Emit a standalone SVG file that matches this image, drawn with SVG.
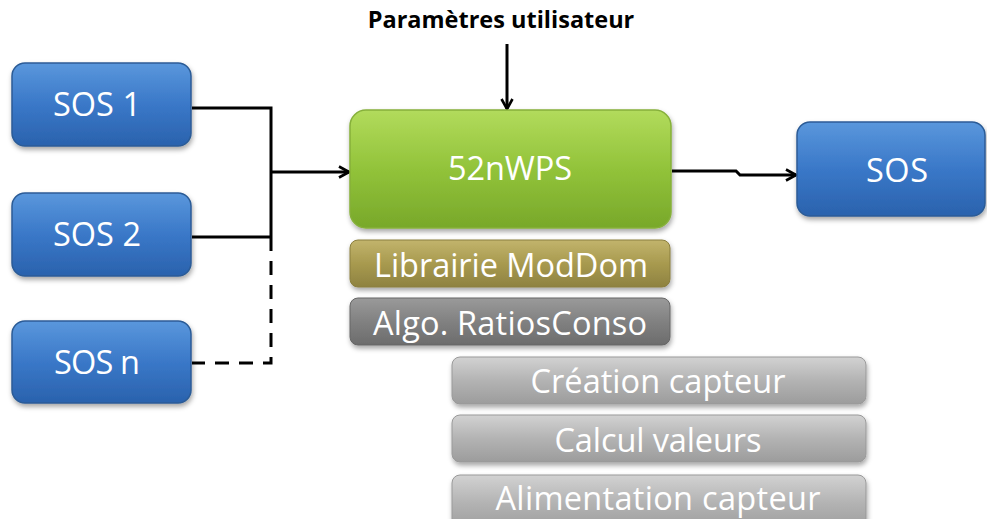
<svg xmlns="http://www.w3.org/2000/svg" width="987" height="519" viewBox="0 0 987 519">
<defs>
<linearGradient id="gBlue" x1="0" y1="0" x2="0" y2="1"><stop offset="0" stop-color="#5a97dc"/><stop offset="0.5" stop-color="#3a78c8"/><stop offset="1" stop-color="#2a62ad"/></linearGradient>
<linearGradient id="gGreen" x1="0" y1="0" x2="0" y2="1"><stop offset="0" stop-color="#b2db5c"/><stop offset="0.5" stop-color="#92c33a"/><stop offset="1" stop-color="#78a82a"/></linearGradient>
<linearGradient id="gOlive" x1="0" y1="0" x2="0" y2="1"><stop offset="0" stop-color="#c2b46c"/><stop offset="0.5" stop-color="#a89a4f"/><stop offset="1" stop-color="#8e8240"/></linearGradient>
<linearGradient id="gDark" x1="0" y1="0" x2="0" y2="1"><stop offset="0" stop-color="#9a9a9a"/><stop offset="0.5" stop-color="#818181"/><stop offset="1" stop-color="#6c6c6c"/></linearGradient>
<linearGradient id="gLight" x1="0" y1="0" x2="0" y2="1"><stop offset="0" stop-color="#d2d2d2"/><stop offset="0.5" stop-color="#b3b3b3"/><stop offset="1" stop-color="#9c9c9c"/></linearGradient>
<filter id="sh" x="-10%" y="-10%" width="125%" height="140%"><feDropShadow dx="1" dy="3" stdDeviation="2.5" flood-color="#000" flood-opacity="0.35"/></filter>
<marker id="arr" viewBox="0 0 14 14" refX="12" refY="7" markerWidth="14" markerHeight="14" markerUnits="userSpaceOnUse" orient="auto"><path d="M2,1.5 L12,7 L2,12.5" fill="none" stroke="#000" stroke-width="2.6"/></marker>
</defs>
<style>
.t{font-family:"Open Sans","Liberation Sans",sans-serif;font-size:32.5px;fill:#fff;text-anchor:middle}
.blue{fill:url(#gBlue);stroke:#2c5b96;stroke-width:1.5;filter:url(#sh)}
.c{fill:none;stroke:#000;stroke-width:3}
.box{stroke-width:1;filter:url(#sh)}
</style>
<rect width="987" height="519" fill="#fff"/>
<g id="connectors">
<path class="c" d="M192,108 H271 V237 M192,237 H271"/>
<path class="c" d="M271,237 V363 H192" stroke-dasharray="14,10"/>
<path class="c" d="M271,172 H349" marker-end="url(#arr)"/>
<path class="c" d="M507,44 V109" marker-end="url(#arr)"/>
<path class="c" d="M672,171 H736 L740,175 H796" marker-end="url(#arr)"/>
</g>
<g id="label-params"><text x="501" y="28" style="font-family:'Open Sans','Liberation Sans',sans-serif;font-weight:bold;font-size:23.5px;fill:#000;text-anchor:middle">Paramètres utilisateur</text></g>
<g id="sos1"><rect class="blue" x="12" y="63" width="179" height="83" rx="13"/><text class="t" x="97" y="116" textLength="88">SOS 1</text></g>
<g id="sos2"><rect class="blue" x="12" y="193" width="179" height="83" rx="13"/><text class="t" x="97" y="246" textLength="88">SOS 2</text></g>
<g id="sosn"><rect class="blue" x="12" y="321" width="179" height="82" rx="13"/><text class="t" x="97" y="374" textLength="86">SOS n</text></g>
<g id="wps"><rect x="350" y="110" width="321" height="118" rx="16" fill="url(#gGreen)" stroke="#86b03a" stroke-width="1.5" filter="url(#sh)"/><text class="t" x="510" y="180" textLength="124">52nWPS</text></g>
<g id="sos"><rect class="blue" x="797" y="122" width="188" height="94" rx="13"/><text class="t" x="897" y="182" textLength="62">SOS</text></g>
<g id="moddom"><rect class="box" x="350" y="240" width="320" height="47" rx="8" fill="url(#gOlive)" stroke="#8a7e3e"/><text class="t" x="511" y="277" textLength="274">Librairie ModDom</text></g>
<g id="algo"><rect class="box" x="350" y="298" width="320" height="47" rx="8" fill="url(#gDark)" stroke="#666"/><text class="t" x="510" y="335" textLength="274">Algo. RatiosConso</text></g>
<g id="creation"><rect class="box" x="452" y="357" width="414" height="47" rx="8" fill="url(#gLight)" stroke="#999"/><text class="t" x="658" y="393" textLength="255">Création capteur</text></g>
<g id="calcul"><rect class="box" x="452" y="415" width="414" height="47" rx="8" fill="url(#gLight)" stroke="#999"/><text class="t" x="658" y="452" textLength="207">Calcul valeurs</text></g>
<g id="alim"><rect class="box" x="452" y="475" width="414" height="56" rx="8" fill="url(#gLight)" stroke="#999"/><text class="t" x="658" y="510" textLength="325">Alimentation capteur</text></g>
</svg>
